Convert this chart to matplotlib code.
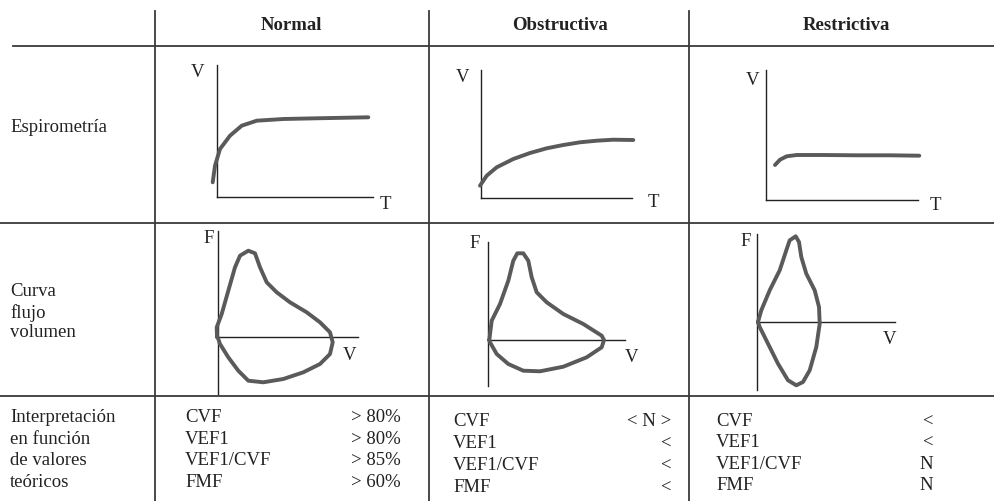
import numpy as np
import matplotlib
matplotlib.use("Agg")
import matplotlib.pyplot as plt

plt.rcParams['font.family'] = ['Liberation Serif', 'DejaVu Serif']

W, H = 995, 502
INK = '#222222'
CURVE = '#5a5a5a'

# encabezados y filas
columnas = ['Normal', 'Obstructiva', 'Restrictiva']
filas_espiro = 'Espirometría'
filas_curva = ['Curva', 'flujo', 'volumen']
filas_interp = ['Interpretación', 'en función', 'de valores', 'teóricos']

parametros = ['CVF', 'VEF1', 'VEF1/CVF', 'FMF']
valores_normal = ['> 80%', '> 80%', '> 85%', '> 60%']
valores_obstructiva = ['< N >', '<', '<', '<']
valores_restrictiva = ['<', '<', 'N', 'N']

# espirometria: volumen (V) frente a tiempo (T), coords locales respecto al origen
esp_normal_t = [-4.3, -2, 3, 13, 24.7, 39.7, 66.3, 99.7, 151.3]
esp_normal_v = [14.7, 31.3, 48, 61.3, 71.3, 76.3, 78, 78.7, 79.7]
esp_obs_t = [-1, 5.7, 15.7, 32.3, 49, 65.7, 82.3, 99, 115.7, 132.3, 152.3]
esp_obs_v = [12.3, 22.3, 30.7, 39, 45, 49.7, 53, 55.7, 57.3, 58.3, 58]
esp_res_t = [9, 14, 20.7, 30.7, 57.3, 90.7, 124, 153.3]
esp_res_v = [35, 40.3, 43.7, 45, 45, 44.7, 44.7, 44.3]

# curva flujo-volumen: volumen (V) y flujo (F)
fv_normal_v = [-1, -1.3, 3.7, 10.3, 17, 22, 30.3, 37, 42, 48.7, 58.7, 72, 88.7, 102,
               112, 114.7, 112, 102, 85.3, 65.3, 45.3, 30.3, 20.3, 10.3, 2, -0.3, -1]
fv_normal_f = [0, 9.7, 23, 46.3, 69.7, 81.3, 86.3, 83.7, 69.7, 54.7, 44.7, 34.7, 24.7, 14.7,
               4.7, -5.3, -17, -27, -35.3, -42, -45.3, -43.7, -33.7, -20.3, -7, -0.3, 0]
fv_obs_v = [1.3, 3.7, 12, 20.3, 25.3, 29.3, 35.3, 40.3, 43.7, 48.7, 58.7, 75.3, 95.3, 113.7,
            116, 113.7, 98.7, 75.3, 52, 35.3, 20.3, 8.7, 2, 1.3]
fv_obs_f = [0, 19.3, 36, 59.3, 79.3, 86.7, 86.7, 79.3, 62.7, 47.7, 37.7, 26, 16, 4.3,
            0, -7.3, -17.3, -26.7, -31.3, -30.7, -24, -14, -2.3, 0]
fv_res_v = [1, 4.3, 12.7, 22.7, 29.3, 32.7, 38.7, 42, 44.3, 49.3, 57.7, 62, 62.7, 59.3,
            52.7, 46, 39.3, 31, 21, 11, 2.7, 1]
fv_res_f = [0, 11.7, 31.7, 51.7, 71.7, 81.7, 85.7, 80, 65, 48.3, 31.7, 15, -1.7, -25,
            -48.3, -60, -63.3, -58.3, -41.7, -21.7, -5, 0]

fig = plt.figure(figsize=(W / 100, H / 100), dpi=100)
ax = fig.add_axes([0, 0, 1, 1])
ax.set_xlim(0, W)
ax.set_ylim(H, 0)
ax.axis('off')

# rejilla de la tabla
lc, lw = '#3a3a3a', 1.3
ax.plot([13, W], [47, 47], color=lc, lw=lw)
ax.plot([0, W], [224, 224], color=lc, lw=lw)
ax.plot([0, W], [397, 397], color=lc, lw=lw)
for xv in (155, 429, 689):
    ax.plot([xv, xv], [12, H], color=lc, lw=lw)

fs = 13.5
for name, xc in zip(columnas, (291, 560, 846)):
    ax.text(xc, 25, name, ha='center', va='center', fontsize=fs, fontweight='bold', color=INK)

ax.text(10, 127, filas_espiro, ha='left', va='center', fontsize=fs, color=INK)
for txt, yy in zip(filas_curva, (292, 313, 333)):
    ax.text(10, yy, txt, ha='left', va='center', fontsize=fs, color=INK)
for txt, yy in zip(filas_interp, (418, 440, 461, 483)):
    ax.text(10, yy, txt, ha='left', va='center', fontsize=fs, color=INK)

# bloques de interpretacion
bloques = [
    (185, 401, (418, 440, 461, 483), valores_normal),
    (453, 671, (422, 444, 466, 488), valores_obstructiva),
    (716, 933, (422, 443, 465, 486), valores_restrictiva),
]
for xl, xr, ys, vals in bloques:
    for p, v, yy in zip(parametros, vals, ys):
        ax.text(xl, yy, p, ha='left', va='center', fontsize=fs, color=INK)
        ax.text(xr, yy, v, ha='right', va='center', fontsize=fs, color=INK)


def sketch(ox, oy, left, right, down, up):
    """ejes locales en pixeles con origen en (ox, oy)"""
    a = fig.add_axes([(ox - left) / W, (H - oy - down) / H, (left + right) / W, (up + down) / H])
    a.set_xlim(-left, right)
    a.set_ylim(-down, up)
    a.axis('off')
    return a


def draw_esp(ox, oy, xlen, ylen, tt, vv, vlab, tlab):
    a = sketch(ox, oy, 30, 190, 20, 140)
    a.plot([0, 0], [0, ylen], color=INK, lw=1.0)
    a.plot([0, xlen], [0, 0], color=INK, lw=1.0)
    a.plot(tt, vv, color=CURVE, lw=2.8, solid_capstyle='round', solid_joinstyle='round')
    a.text(vlab[0], vlab[1], 'V', ha='center', va='center', fontsize=fs, color=INK)
    a.text(tlab[0], tlab[1], 'T', ha='center', va='center', fontsize=fs, color=INK)


def draw_fv(ox, oy, xlen, yup, ydown, vv, ff, flab, vlab):
    a = sketch(ox, oy, 30, 170, 80, 115)
    a.plot([0, 0], [-ydown, yup], color=INK, lw=1.0)
    a.plot([0, xlen], [0, 0], color=INK, lw=1.0)
    a.plot(vv, ff, color=CURVE, lw=2.8, solid_capstyle='round', solid_joinstyle='round')
    a.text(flab[0], flab[1], 'F', ha='center', va='center', fontsize=fs, color=INK)
    a.text(vlab[0], vlab[1], 'V', ha='center', va='center', fontsize=fs, color=INK)


draw_esp(217, 198, 156, 132, esp_normal_t, esp_normal_v, (-19, 125), (168, -7))
draw_esp(481, 199, 151, 128, esp_obs_t, esp_obs_v, (-18, 121), (172, -4))
draw_esp(766, 201, 152, 130, esp_res_t, esp_res_v, (-13, 121), (169, -4))

draw_fv(218, 338, 140, 106, 57, fv_normal_v, fv_normal_f, (-9, 100), (132, -17))
draw_fv(488, 341, 137, 98, 46, fv_obs_v, fv_obs_f, (-13, 98), (144, -16))
draw_fv(757, 323, 138, 88, 68, fv_res_v, fv_res_f, (-11, 82), (133, -17))

fig.savefig('out.png', dpi=100)
